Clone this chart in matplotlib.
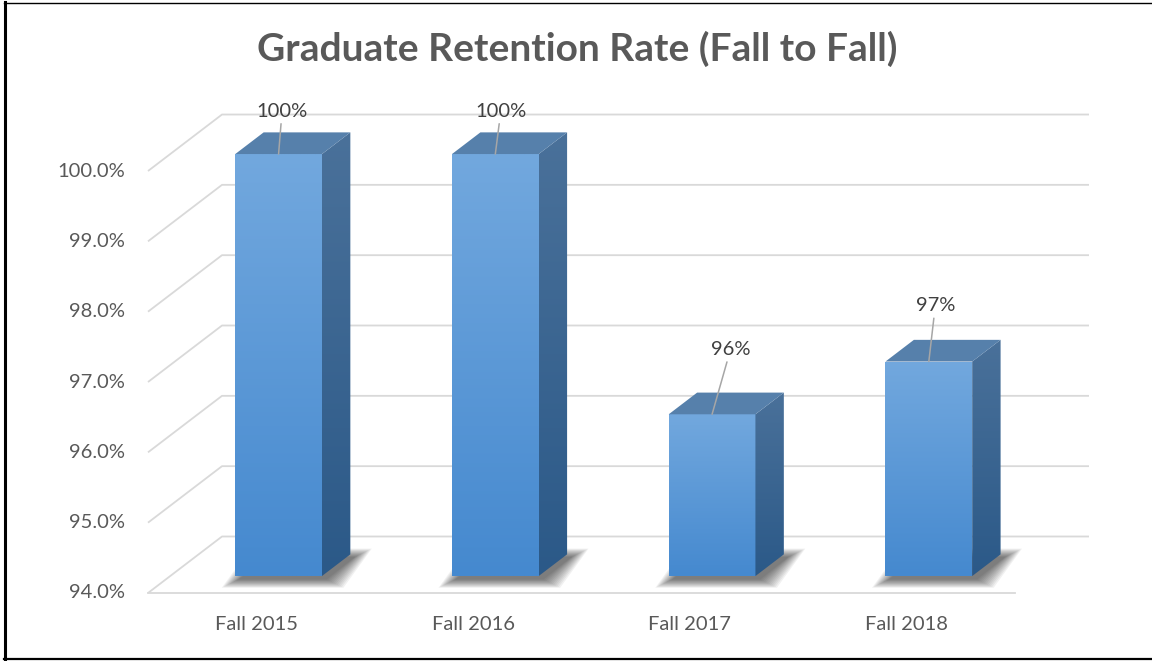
import numpy as np
import matplotlib
matplotlib.use('Agg')
import matplotlib.pyplot as plt
from matplotlib.patches import Polygon, Rectangle
from matplotlib.colors import LinearSegmentedColormap
from matplotlib.lines import Line2D

# data
categories = ['Fall 2015', 'Fall 2016', 'Fall 2017', 'Fall 2018']
rates = [100.0, 100.0, 96.3, 97.05]
ticks = [94, 95, 96, 97, 98, 99, 100]
title = 'Graduate Retention Rate (Fall to Fall)'

# layout (pixels of the 1152x661 picture)
W, H = 1152, 661
floor_left_px = 148
slot_px = 216.75
floor_front_px = 593
pct_px = 70.33
ymin = 94

DX = 74 / slot_px      # depth offset in category units
DY = 56.5 / pct_px     # depth offset in percent units
z0, z1 = 0.30, 0.684   # bar depth (fraction of floor depth)
bar_gap, bar_w = 0.30, 0.40

# label offsets in px (right, up) from the bar's top front centre
label_off = [(3.5, 43), (5.5, 43), (18.5, 65), (6.5, 56)]

plt.rcParams['font.family'] = ['Lato', 'DejaVu Sans']

fig = plt.figure(figsize=(W / 100, H / 100), dpi=100)
ax = fig.add_axes([0, 0, 1, 1])
ax.set_xlim(-floor_left_px / slot_px, (W - floor_left_px) / slot_px)
ax.set_ylim(ymin - (H - floor_front_px) / pct_px, ymin + floor_front_px / pct_px)
ax.axis('off')

grid_c = '#d9d9d9'
n = len(categories)
for t in ticks:
    ax.plot([0, DX, n + DX], [t, t + DY, t + DY], color=grid_c, lw=1.3, zorder=1,
            solid_capstyle='butt')
    ax.text(-23 / slot_px, t, f'{t:.1f}%', ha='right', va='center',
            fontsize=14.5, color='#595959')
ax.plot([0, n], [ymin, ymin], color=grid_c, lw=1.3, zorder=1)

for i, c in enumerate(categories):
    ax.text(i + 0.5, ymin - 31 / pct_px, c, ha='center', va='center',
            fontsize=14.5, color='#595959')

front_cm = LinearSegmentedColormap.from_list('f', ['#4589cf', '#72a8de'])
side_cm = LinearSegmentedColormap.from_list('s', ['#2b5988', '#4a719a'])
top_c = '#5680ab'
grad = np.linspace(0, 1, 256).reshape(-1, 1)

bd = z1 - z0
rx, ry = 1 / slot_px, 1 / pct_px
for i, v in enumerate(rates):
    xl = i + bar_gap + z0 * DX
    xr = xl + bar_w
    yb = ymin + z0 * DY
    yt = v + z0 * DY

    # soft shadow on the floor
    foot = np.array([[xl, yb], [xr, yb], [xr + bd * DX, yb + bd * DY], [xl + bd * DX, yb + bd * DY]])
    sx = np.array([-1, 1, 1, -1])
    sy = np.array([-1, -1, 1, 1])
    for k in range(12):
        r = 1 + k * 1.5
        pts = foot.copy()
        pts[:, 0] += (4 + sx * r) * rx
        pts[:, 1] += (-3 + sy * r * 0.5) * ry
        ax.add_patch(Polygon(pts, closed=True, facecolor='black', edgecolor='none',
                             alpha=0.055, zorder=2))

    # front face
    rect = Rectangle((xl, yb), bar_w, yt - yb, facecolor='none', edgecolor='none')
    ax.add_patch(rect)
    im = ax.imshow(grad, cmap=front_cm, origin='lower', aspect='auto',
                   extent=[xl, xr, yb, yt], zorder=4, interpolation='bilinear')
    im.set_clip_path(rect)

    # side face
    side = Polygon([[xr, yb], [xr + bd * DX, yb + bd * DY], [xr + bd * DX, yt + bd * DY], [xr, yt]],
                   closed=True, facecolor='none', edgecolor='none')
    ax.add_patch(side)
    im2 = ax.imshow(grad, cmap=side_cm, origin='lower', aspect='auto',
                    extent=[xr, xr + bd * DX, yb, yt + bd * DY], zorder=4, interpolation='bilinear')
    im2.set_clip_path(side)

    # top face
    ax.add_patch(Polygon([[xl, yt], [xr, yt], [xr + bd * DX, yt + bd * DY], [xl + bd * DX, yt + bd * DY]],
                         closed=True, facecolor=top_c, edgecolor='none', zorder=5))

    # data label with leader line
    ox, oy = label_off[i]
    ax.annotate(f'{v:.0f}%', xy=((xl + xr) / 2, yt), xytext=(ox * 0.72, oy * 0.72),
                textcoords='offset points', ha='center', va='center',
                fontsize=14.5, color='#404040', zorder=6,
                arrowprops=dict(arrowstyle='-', color='#a6a6a6', lw=1.1,
                                shrinkA=1, shrinkB=0))

fig.text(577 / W, 1 - 49 / H, title, ha='center', va='center', fontsize=28,
         fontweight='bold', color='#595959')

# outer frame (left, top, bottom)
fig.add_artist(Line2D([5 / W, 5 / W], [0, 1 - 2 / H], transform=fig.transFigure, color='black', lw=2.2))
fig.add_artist(Line2D([4 / W, 1], [1 - 3 / H, 1 - 3 / H], transform=fig.transFigure, color='black', lw=1.0))
fig.add_artist(Line2D([4 / W, 1], [2 / H, 2 / H], transform=fig.transFigure, color='black', lw=1.6))

fig.savefig('out.png', dpi=100)
